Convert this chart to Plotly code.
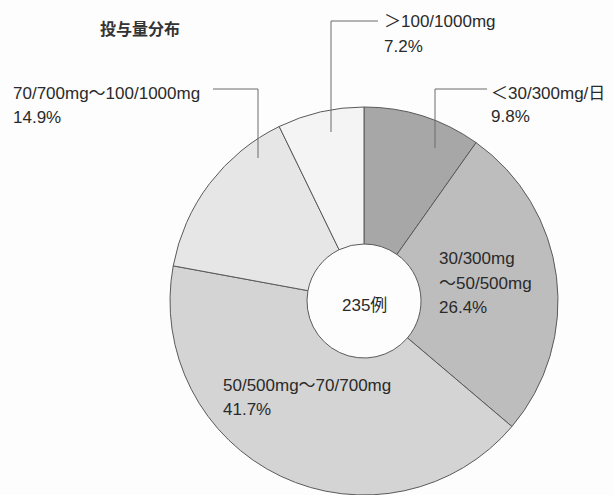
import plotly.graph_objects as go

# ---- data ----
categories = ["＜30/300mg/日", "30/300mg～50/500mg", "50/500mg～70/700mg",
              "70/700mg～100/1000mg", "＞100/1000mg"]
shares = [9.8, 26.4, 41.7, 14.9, 7.2]
colors = ["#a7a7a7", "#bdbdbd", "#d4d4d4", "#e6e6e6", "#f4f4f4"]
total_label = "235例"
title_text = "投与量分布"

W, H = 613, 495
FONT = "Liberation Sans, Arial, Noto Sans CJK JP, sans-serif"
LINE = "#6a6a6a"

# pie geometry (pixels)
cx, cy, R = 364, 301, 194

def px(x):
    return x / W

def py(y):
    return 1 - y / H

fig = go.Figure()
fig.add_trace(go.Pie(
    labels=categories,
    values=shares,
    sort=False,
    direction="clockwise",
    rotation=0,
    hole=57 / R,
    marker=dict(colors=colors, line=dict(color="#5a5a5a", width=1)),
    textinfo="none",
    hoverinfo="skip",
    showlegend=False,
    domain=dict(x=[px(cx - R), px(cx + R)], y=[py(cy + R), py(cy - R)]),
))

def pct(v):
    return f"{v:.1f}%"

# text annotations: (lines, x_left, [y centers])
texts = [
    ([categories[0], pct(shares[0])], 489, [93, 117]),
    (["30/300mg", "～50/500mg", pct(shares[1])], 437, [258, 283, 307]),
    ([categories[2], pct(shares[2])], 221, [385, 409]),
    ([categories[3], pct(shares[3])], 11, [93, 118]),
    ([categories[4], pct(shares[4])], 382, [22, 47]),
]
ann = []
for lines, x0, ys in texts:
    for t, yy in zip(lines, ys):
        ann.append(dict(text=t, x=px(x0), y=py(yy), xref="paper", yref="paper",
                        xanchor="left", yanchor="middle", showarrow=False,
                        font=dict(family=FONT, size=17, color="#2a2a2a")))

ann.append(dict(text=total_label, x=px(cx), y=py(305), xref="paper", yref="paper",
                xanchor="center", yanchor="middle", showarrow=False,
                font=dict(family=FONT, size=17, color="#2a2a2a")))
ann.append(dict(text=title_text, x=px(140), y=py(28), xref="paper", yref="paper",
                xanchor="center", yanchor="middle", showarrow=False,
                font=dict(family="Noto Sans CJK JP, sans-serif", size=16,
                          color="#333333", weight="bold")))

# leader lines (pixel paths)
leaders = [
    [(487, 89), (435, 89), (435, 148)],
    [(378, 21), (331, 21), (331, 132)],
    [(213, 89), (258, 89), (258, 158)],
]
shapes = []
for pts in leaders:
    for (x0, y0), (x1, y1) in zip(pts[:-1], pts[1:]):
        shapes.append(dict(type="line", xref="paper", yref="paper",
                           x0=px(x0), y0=py(y0), x1=px(x1), y1=py(y1),
                           line=dict(color=LINE, width=1)))

fig.update_layout(
    width=W, height=H,
    margin=dict(l=0, r=0, t=0, b=0),
    paper_bgcolor="#fdfdfd",
    plot_bgcolor="#fdfdfd",
    annotations=ann,
    shapes=shapes,
)

fig.write_html("out.html")
